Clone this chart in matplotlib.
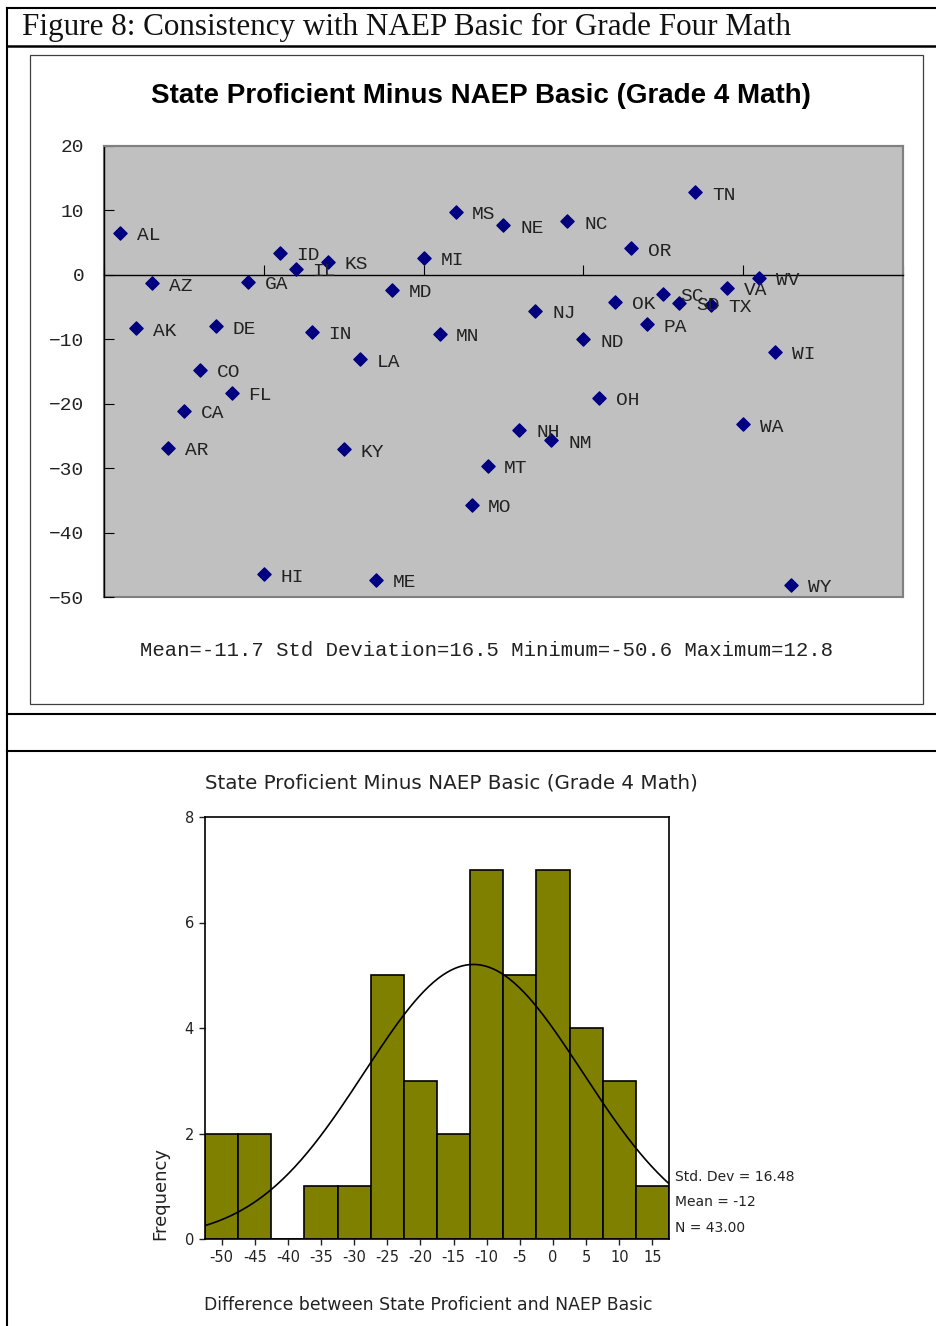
import numpy as np
import matplotlib
matplotlib.use('Agg')
import matplotlib.pyplot as plt
from matplotlib.patches import Rectangle

W, H = 937, 1326

# states in the order used on the x axis (1..43)
states = ['AL', 'AK', 'AZ', 'AR', 'CA', 'CO', 'DE', 'FL', 'GA', 'HI', 'ID',
          'IL', 'IN', 'KS', 'KY', 'LA', 'ME', 'MD', 'MA', 'MI', 'MN', 'MS',
          'MO', 'MT', 'NE', 'NH', 'NJ', 'NM', 'NC', 'ND', 'OH', 'OK', 'OR',
          'PA', 'SC', 'SD', 'TN', 'TX', 'VA', 'WA', 'WV', 'WI', 'WY']
diff = [6.5, -8.3, -1.3, -26.9, -21.1, -14.7, -8.0, -18.3, -1.1, -46.5, 3.4,
        0.9, -8.9, 2.0, -27.1, -13.1, -47.3, -2.3, -50.6, 2.6, -9.2, 9.8,
        -35.7, -29.6, 7.7, -24.1, -5.6, -25.7, 8.3, -10.0, -19.1, -4.2, 4.1,
        -7.7, -3.0, -4.4, 12.8, -4.7, -2.0, -23.2, -0.5, -11.9, -48.1]
idx = list(range(1, len(states) + 1))

ymin_sc, ymax_sc = -50, 20
yticks_sc = [20, 10, 0, -10, -20, -30, -40, -50]
xticks_sc = [0, 10, 20, 30, 40, 50]

bin_edges = [-52.5 + 5 * i for i in range(15)]
xticks_h = [-50, -45, -40, -35, -30, -25, -20, -15, -10, -5, 0, 5, 10, 15]
yticks_h = [0, 2, 4, 6, 8]
fit_mean, fit_std, fit_n = -12.0, 16.48, 43

stats_line = 'Mean=-11.7 Std Deviation=16.5 Minimum=-50.6 Maximum=12.8'


def px(l, t, r, b):
    return [l / W, 1 - b / H, (r - l) / W, (b - t) / H]


fig = plt.figure(figsize=(W / 100, H / 100), dpi=100)

# page frame / table lines
frame = fig.add_axes([0, 0, 1, 1])
frame.set_xlim(0, W)
frame.set_ylim(H, 0)
frame.axis('off')
frame.plot([7, W], [8, 8], color='black', lw=1.5)
frame.plot([7, W], [45.5, 45.5], color='black', lw=1.8)
frame.plot([7, 7], [8, H], color='black', lw=1.5)
frame.plot([7, W], [714, 714], color='black', lw=1.5)
frame.plot([7, W], [750.5, 750.5], color='black', lw=1.5)
frame.add_patch(Rectangle((30, 55), 893, 649, fill=False, ec='#404040', lw=0.9))
frame.text(22, 27, 'Figure 8: Consistency with NAEP Basic for Grade Four Math',
           family='Liberation Serif', fontsize=22.4, color='#111111',
           ha='left', va='center')
frame.text(481, 96, 'State Proficient Minus NAEP Basic (Grade 4 Math)',
           family='Liberation Sans', weight='bold', fontsize=20,
           ha='center', va='center')
frame.text(487, 650, stats_line, family='Liberation Mono', fontsize=14.9,
           color='#222222', ha='center', va='center')

# scatter chart (points outside the value axis range are not drawn, as in the original)
ax = fig.add_axes(px(104, 146, 903, 597))
ax.set_facecolor('#C0C0C0')
shown = [(s, x, y) for s, x, y in zip(states, idx, diff) if ymin_sc <= y <= ymax_sc]
ax.scatter([p[1] for p in shown], [p[2] for p in shown], marker='D', s=45,
           color='#000080', zorder=3)
for st, xi, yi in shown:
    ax.annotate(st, (xi, yi), xytext=(12, -2), textcoords='offset points',
                family='Liberation Mono', fontsize=14, color='#222222',
                ha='left', va='center', zorder=4)
ax.set_xlim(0, 50)
ax.set_ylim(ymin_sc, ymax_sc)
ax.set_yticks(yticks_sc)
ax.set_yticklabels([str(v).replace('-', '\u2212') for v in yticks_sc],
                   family='Liberation Mono', color='#222222')
ax.set_xticks(xticks_sc)
ax.set_xticklabels([])
for s in ['top', 'right']:
    ax.spines[s].set_color('#808080')
    ax.spines[s].set_linewidth(1.5)
ax.spines['left'].set_color('black')
ax.spines['left'].set_linewidth(1.0)
ax.spines['bottom'].set_position(('data', 0))
ax.spines['bottom'].set_color('black')
ax.spines['bottom'].set_linewidth(1.0)
ax.patch.set_edgecolor('#808080')
ax.patch.set_linewidth(1.5)
ax.tick_params(axis='y', direction='in', length=7, pad=14, labelsize=14)
ax.tick_params(axis='x', direction='in', length=7)

# histogram
ah = fig.add_axes(px(205, 817, 669, 1239))
counts, edges, bars = ah.hist(diff, bins=bin_edges, color='#808000',
                              edgecolor='black', linewidth=1.2)
xs = np.linspace(bin_edges[0], bin_edges[-1], 300)
bw = bin_edges[1] - bin_edges[0]
curve = fit_n * bw / (fit_std * np.sqrt(2 * np.pi)) * np.exp(-0.5 * ((xs - fit_mean) / fit_std) ** 2)
ah.plot(xs, curve, color='black', lw=1.2)
ah.set_xlim(bin_edges[0], bin_edges[-1])
ah.set_ylim(0, 8)
ah.set_xticks(xticks_h)
ah.set_xticklabels([str(v) for v in xticks_h])
ah.set_yticks(yticks_h)
ah.set_yticklabels([str(v) for v in yticks_h])
ah.tick_params(direction='out', length=4, width=1, labelsize=10.5, pad=4,
               colors='#222222')
for s in ah.spines.values():
    s.set_linewidth(1.2)

frame.text(205, 783, 'State Proficient Minus NAEP Basic (Grade 4 Math)',
           family='DejaVu Sans', fontsize=14.3, color='#222222',
           ha='left', va='center')
frame.text(160, 1240, 'Frequency', family='DejaVu Sans', fontsize=13,
           color='#222222', rotation=90, ha='center', va='bottom')
frame.text(204, 1305, 'Difference between State Proficient and NAEP Basic',
           family='DejaVu Sans', fontsize=12.4, color='#222222',
           ha='left', va='center')
for t, yy in zip(['Std. Dev = 16.48', 'Mean = -12', 'N = 43.00'], [1177, 1202, 1228]):
    frame.text(675, yy, t, family='DejaVu Sans', fontsize=10, color='#222222',
               ha='left', va='center')

fig.savefig('out.png', dpi=100)
